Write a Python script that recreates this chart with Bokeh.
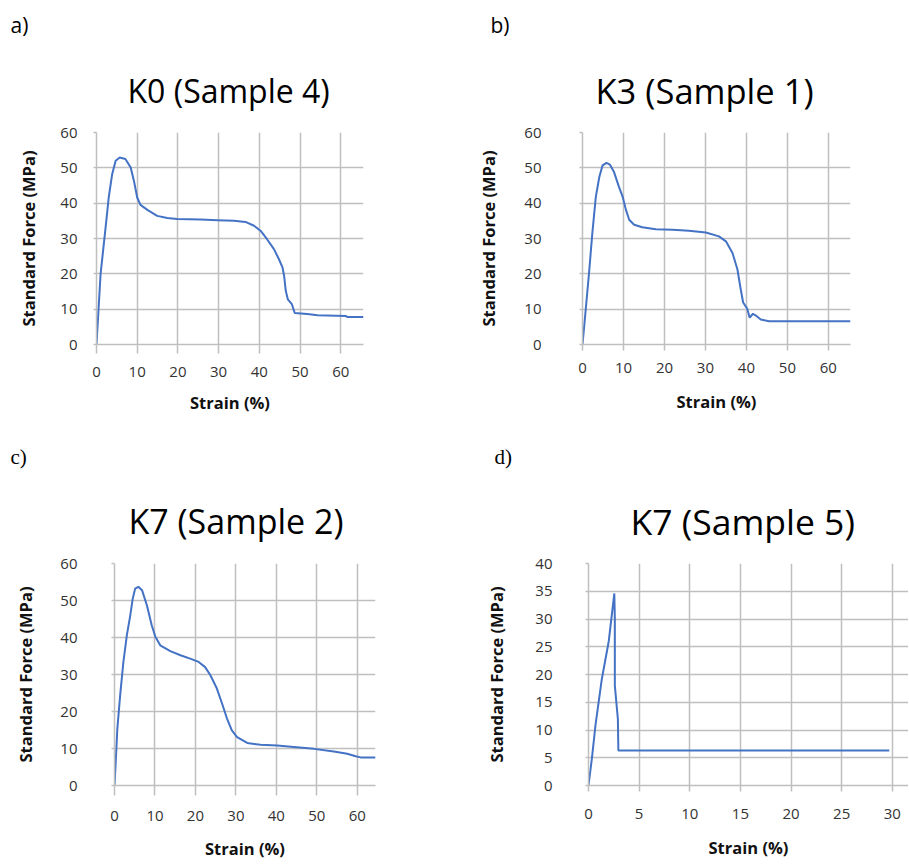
from bokeh.plotting import figure
from bokeh.layouts import column, row
from bokeh.models import Title, Range1d, FixedTicker
from bokeh.embed import file_html
from bokeh.resources import INLINE

# ---- data (strain %, stress MPa) ----
a_strain = [0, 1.0, 2.5, 3.0, 3.85, 4.7, 5.7, 7.1, 8.4, 9.2, 10.0, 10.8, 12.5, 14.9, 17.4, 19.8,
            25.6, 29.7, 33.8, 36.6, 38.7, 40.3, 41.9, 43.6, 44.8, 45.7, 46.1, 46.5, 47.0, 48.0,
            48.7, 51.8, 54.3, 61.2, 61.6, 65.6]
a_force = [0, 19.9, 36.0, 41.6, 48.2, 52.0, 52.9, 52.5, 50.1, 46.3, 41.6, 39.5, 38.1, 36.4, 35.8, 35.5,
           35.4, 35.2, 35.0, 34.7, 33.6, 32.2, 29.8, 27.0, 24.2, 21.8, 19.4, 15.2, 12.8, 11.4,
           8.9, 8.6, 8.3, 8.1, 7.8, 7.8]

b_strain = [0, 0.8, 1.6, 2.4, 3.25, 4.1, 4.9, 5.85, 6.7, 7.7, 8.9, 9.8, 10.6, 11.4, 12.6, 14.6,
            17.9, 22.0, 26.0, 30.1, 33.3, 35.0, 36.6, 37.8, 38.6, 39.2, 40.2, 40.8, 41.6, 42.3,
            43.5, 45.5, 65.4]
b_force = [0, 10.1, 20.3, 31.5, 41.8, 47.4, 50.7, 51.4, 50.9, 48.8, 44.6, 41.8, 38.1, 35.3, 33.9, 33.2,
           32.6, 32.5, 32.2, 31.7, 30.6, 29.2, 25.9, 21.3, 15.7, 11.9, 10.1, 7.6, 8.7, 8.2,
           7.1, 6.6, 6.6]

c_strain = [0, 0.3, 0.7, 1.4, 2.2, 3.05, 3.9, 4.5, 5.1, 5.9, 6.8, 8.0, 9.2, 10.1, 11.3, 13.8,
            16.3, 18.7, 20.8, 22.4, 23.7, 25.3, 26.6, 27.8, 29.0, 30.3, 32.8, 36.1, 40.2, 44.3,
            49.3, 54.2, 57.5, 59.6, 60.8, 64.5]
c_force = [0, 6.3, 15.3, 24.4, 33.4, 40.6, 46.0, 50.5, 53.2, 53.7, 52.8, 48.7, 43.3, 40.2, 37.9, 36.3,
           35.2, 34.3, 33.4, 32.0, 29.8, 26.2, 22.1, 18.1, 14.9, 13.1, 11.5, 11.0, 10.8, 10.4,
           9.9, 9.2, 8.6, 7.9, 7.6, 7.6]

d_strain = [0, 0.33, 0.7, 1.3, 2.0, 2.55, 2.6, 2.6, 2.9, 2.95, 29.7]
d_force = [0, 4.8, 11.0, 19.0, 26.0, 34.6, 30.0, 18.0, 12.0, 6.3, 6.3]

titles = ["K0 (Sample 4)", "K3 (Sample 1)", "K7 (Sample 2)", "K7 (Sample 5)"]
panel_labels = ["a)", "b)", "c)", "d)"]
x_ticks_60 = [0, 10, 20, 30, 40, 50, 60]
y_ticks_60 = [0, 10, 20, 30, 40, 50, 60]
x_ticks_30 = [0, 5, 10, 15, 20, 25, 30]
y_ticks_40 = [0, 5, 10, 15, 20, 25, 30, 35, 40]

GRID = "#bfbfbf"
LINE = "#4472c4"
FONT = "Open Sans"


def panel(xs, ys, title, label, label_font, W, H, left, right, top, bottom,
          xr, yr, xt, yt, tick_out, xstand, xlab_stand, ystand, ylab_stand,
          lab_offset, lab_standoff, title_offset, title_standoff, title_size):
    p = figure(width=W, height=H, output_backend="svg", toolbar_location=None,
               x_range=Range1d(*xr), y_range=Range1d(*yr),
               min_border_left=left, min_border_right=right,
               min_border_top=top, min_border_bottom=bottom)
    p.outline_line_color = None
    p.background_fill_color = "white"
    p.border_fill_color = "white"
    # outermost: panel letter
    p.title.text = label
    p.title.text_font = label_font
    p.title.text_font_size = "21px"
    p.title.text_font_style = "normal"
    p.title.text_color = "black"
    p.title.align = "left"
    p.title.offset = lab_offset
    p.title.standoff = lab_standoff
    # closest to frame: chart title
    t = Title(text=title, text_font=FONT, text_font_size=title_size,
              text_font_style="normal", text_color="black", align="left",
              offset=title_offset, standoff=title_standoff)
    p.add_layout(t, "above")

    p.line(xs, ys, line_color=LINE, line_width=2)

    for g in (p.xgrid, p.ygrid):
        g.grid_line_color = GRID
        g.grid_line_width = 1.5
    p.xgrid.ticker = FixedTicker(ticks=xt)
    p.ygrid.ticker = FixedTicker(ticks=yt)

    p.xaxis.ticker = FixedTicker(ticks=xt)
    p.yaxis.ticker = FixedTicker(ticks=yt)
    p.xaxis.axis_label = "Strain (%)"
    p.yaxis.axis_label = "Standard Force (MPa)"
    for ax in (p.xaxis[0], p.yaxis[0]):
        ax.axis_line_color = GRID
        ax.axis_line_width = 1.5
        ax.major_tick_line_color = GRID
        ax.major_tick_line_width = 1.5
        ax.major_tick_in = 0
        ax.minor_tick_line_color = None
        ax.major_label_text_font = FONT
        ax.major_label_text_font_size = "15px"
        ax.major_label_text_color = "#333333"
        ax.axis_label_text_font = FONT
        ax.axis_label_text_font_size = "16.5px"
        ax.axis_label_text_font_style = "bold"
        ax.axis_label_text_color = "#111111"
    p.xaxis.major_tick_out = tick_out
    p.xaxis.major_label_standoff = xstand
    p.xaxis.axis_label_standoff = xlab_stand
    p.yaxis.major_tick_out = 3
    p.yaxis.major_label_standoff = ystand
    p.yaxis.axis_label_standoff = ylab_stand
    return p


pa = panel(a_strain, a_force, titles[0], panel_labels[0], FONT, 455, 430,
           96, 92, 132, 86, (0, 65.6), (0, 60), x_ticks_60, y_ticks_60,
           9, 13, 11, 16, 17, -86, 14, 31, 42, "32px")
pb = panel(b_strain, b_force, titles[1], panel_labels[1], FONT, 453, 430,
           127, 58, 132, 84, (0, 65.4), (0, 60), x_ticks_60, y_ticks_60,
           6, 12, 14, 38, 21, -92, 14, 13, 38, "34.5px")
pc = panel(c_strain, c_force, titles[2], panel_labels[2], "Liberation Serif", 455, 432,
           114, 80, 133, 75, (0, 64.5), (0, 60), x_ticks_60, y_ticks_60,
           10, 15, 13, 34, 20, -104, 14, 14, 40, "34px")
pd = panel(d_strain, d_force, titles[3], panel_labels[3], "Liberation Serif", 453, 432,
           133, 0, 133, 71, (0, 31.6), (0, 40), x_ticks_30, y_ticks_40,
           6, 17, 14, 33, 24, -94, 14, 42, 38, "35.5px")

layout = column(row(pa, pb, spacing=0), row(pc, pd, spacing=0), spacing=0)
open("out.html", "w").write(file_html(layout, INLINE))
